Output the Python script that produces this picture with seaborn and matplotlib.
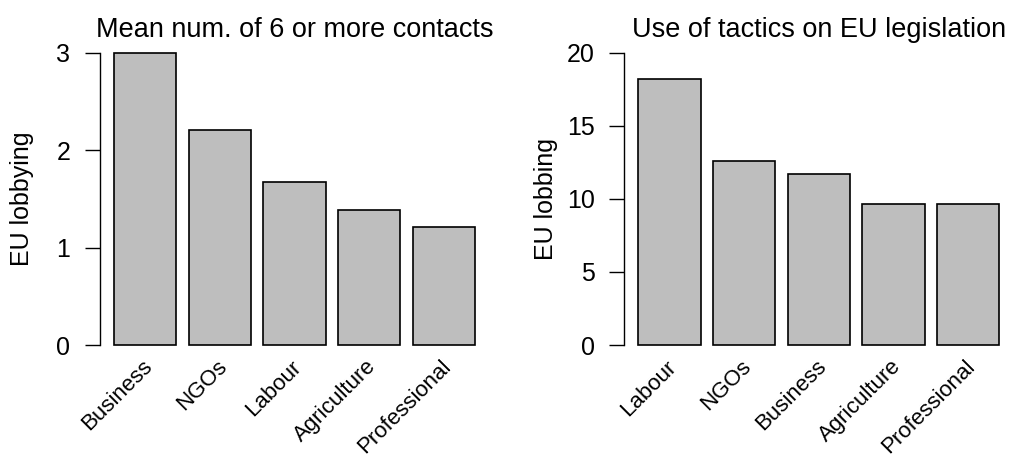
import matplotlib
matplotlib.use("Agg")
import matplotlib.pyplot as plt
import matplotlib.transforms as mtransforms
import seaborn as sns
import pandas as pd

# Data
left_categories = ["Business", "NGOs", "Labour", "Agriculture", "Professional"]
left_values = [3.00, 2.21, 1.67, 1.39, 1.21]
left_title = "Mean num. of 6 or more contacts"
left_ylabel = "EU lobbying"
left_yticks = [0, 1, 2, 3]

right_categories = ["Labour", "NGOs", "Business", "Agriculture", "Professional"]
right_values = [18.2, 12.57, 11.73, 9.65, 9.65]
right_title = "Use of tactics on EU legislation"
right_ylabel = "EU lobbing"
right_yticks = [0, 5, 10, 15, 20]

sns.set_style("white")
plt.rcParams["font.family"] = ["Liberation Sans", "DejaVu Sans"]
plt.rcParams["text.color"] = "black"
plt.rcParams["axes.labelcolor"] = "black"
plt.rcParams["xtick.color"] = "black"
plt.rcParams["ytick.color"] = "black"

W, H = 1013, 455
fig = plt.figure(figsize=(W / 100, H / 100), dpi=100)

def px_axes(x0, y0, x1, y1):
    return fig.add_axes([x0 / W, 1 - y1 / H, (x1 - x0) / W, (y1 - y0) / H])

panels = [
    (left_categories, left_values, left_title, left_ylabel, left_yticks, (99.6, 41, 489.5, 356.7)),
    (right_categories, right_values, right_title, right_ylabel, right_yticks, (623.9, 41, 1013.8, 356.7)),
]

for cats, vals, title, ylab, yticks, box in panels:
    ax = px_axes(*box)
    df = pd.DataFrame({"cat": cats, "val": vals})
    sns.barplot(data=df, x="cat", y="val", ax=ax, color="#BEBEBE", saturation=1,
                width=1 / 1.2, edgecolor="black", linewidth=1.2, errorbar=None)
    top = yticks[-1]
    ax.set_xlim(-0.61, 4.61)
    ax.set_ylim(-0.04 * top, 1.04 * top)
    for s in ["top", "right", "bottom"]:
        ax.spines[s].set_visible(False)
    ax.spines["left"].set_bounds(0, top)
    ax.spines["left"].set_linewidth(1.0)
    ax.spines["left"].set_color("black")
    ax.set_yticks(yticks)
    ax.set_yticklabels([str(t) for t in yticks])
    ax.tick_params(axis="y", direction="out", length=11, width=1.0, color="black",
                   pad=10, labelsize=18, left=True)
    ax.set_xticks(range(len(cats)))
    ax.set_xticklabels(cats, rotation=45, ha="right", va="center", rotation_mode="anchor")
    ax.tick_params(axis="x", length=0, pad=5, labelsize=16)
    shift = mtransforms.ScaledTranslation(4 / 100, 0, fig.dpi_scale_trans)
    for lab in ax.get_xticklabels():
        lab.set_transform(lab.get_transform() + shift)
    ax.set_xlabel("")
    ax.set_ylabel(ylab, fontsize=18)
    ax.yaxis.set_label_coords(-0.168, 0.5)
    ax.set_title(title, fontsize=19.5, pad=3.1)
    ax.patch.set_alpha(0)

fig.savefig("out.png", dpi=100)
